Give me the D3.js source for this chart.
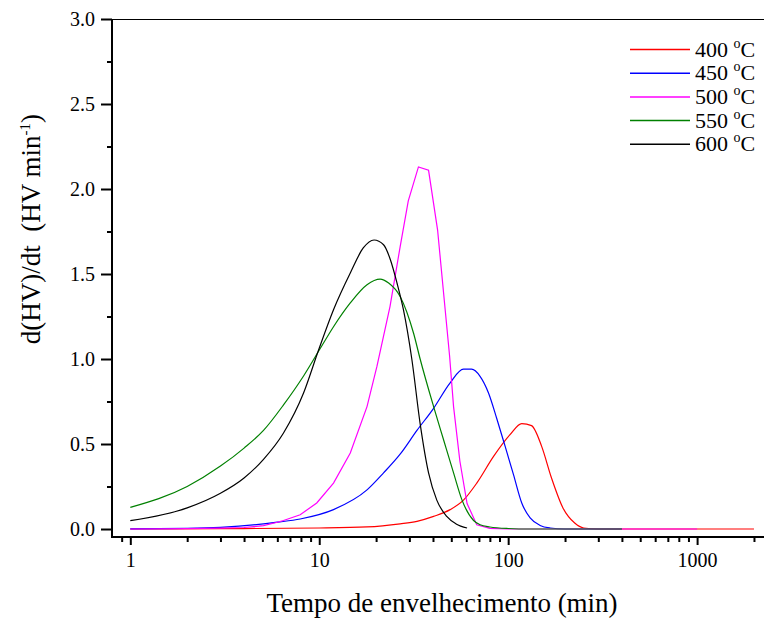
<!DOCTYPE html>
<html>
<head>
<meta charset="utf-8">
<script src="https://cdn.jsdelivr.net/npm/d3@7"></script>
<style>
  body { margin: 0; background: #fff; }
  svg { display: block; }
</style>
</head>
<body>
<svg width="764" height="625"></svg>
<script>
// data: [tempo (min), d(HV)/dt]
const s400 = [[1,0],[3,0.002],[10,0.006],[17.9,0.012],[26.8,0.03],[32.9,0.045],[40.3,0.074],[49.3,0.114],
  [58,0.17],[68.2,0.27],[83.7,0.427],[102.3,0.555],[118,0.62],[133,0.608],[150.4,0.486],[169.6,0.30],
  [195,0.124],[225,0.035],[251,0.006],[300,0],[2000,0]]
const s450 = [[1,0.001],[2,0.004],[3,0.01],[5.07,0.03],[6,0.04],[7.93,0.059],[11.9,0.114],[17.9,0.23],
  [21.9,0.33],[26.8,0.44],[32.9,0.58],[40.3,0.71],[49.3,0.86],[58,0.94],[64,0.94],[71,0.898],[78.7,0.80],
  [87,0.65],[96.4,0.486],[106.7,0.32],[118,0.153],[130.7,0.065],[147.6,0.021],[167,0.006],[200,0],[400,0]]
const s500 = [[1,0],[2,0.002],[3,0.005],[4,0.009],[5.07,0.02],[6,0.04],[6.47,0.05],[7.93,0.084],[9.7,0.153],
  [11.9,0.27],[14.6,0.447],[17.9,0.72],[20.2,0.956],[23.7,1.31],[26.8,1.66],[29.6,1.93],[33.5,2.13],
  [37.9,2.11],[42.3,1.76],[45.5,1.39],[49,1.015],[51.4,0.72],[55.5,0.40],[60.6,0.15],[68.2,0.025],
  [80,0.004],[100,0],[1000,0]]
const s550 = [[1,0.127],[2,0.25],[3,0.37],[4,0.476],[5.07,0.58],[6.47,0.73],[8.26,0.90],[10.1,1.06],
  [11.9,1.19],[14.6,1.33],[17.9,1.437],[21,1.47],[23.3,1.447],[26.8,1.368],[31.6,1.15],[34.2,1.0],
  [40.3,0.72],[45.5,0.525],[51.4,0.33],[57,0.17],[65.6,0.05],[71,0.025],[80,0.012],[100,0.003],[130,0],[400,0]]
const s600 = [[1,0.049],[2,0.124],[3,0.21],[4,0.30],[5.07,0.41],[6.47,0.565],[8.26,0.80],[9.9,1.05],
  [11.9,1.29],[14.6,1.506],[17.1,1.653],[19.5,1.70],[21.9,1.672],[23.8,1.584],[25.8,1.447],[27.9,1.29],
  [30.9,1.0],[34.2,0.62],[37.9,0.33],[41.9,0.17],[47.3,0.074],[53,0.03],[60.6,0.006]]

const labels = ['400', '450', '500', '550', '600']
const colors = ['#ff0000', '#0000ff', '#ff00ff', '#008000', '#000000']
const series = [s400, s450, s500, s550, s600]

const xMajor = [1, 10, 100, 1000]
const xMinor = [0.9, 2, 3, 4, 5, 6, 7, 8, 9, 20, 30, 40, 50, 60, 70, 80, 90,
  200, 300, 400, 500, 600, 700, 800, 900, 2000]
const yMajor = [0, 0.5, 1.0, 1.5, 2.0, 2.5, 3.0]
const yMinor = [0.25, 0.75, 1.25, 1.75, 2.25, 2.75]

const serif = "'Liberation Serif', 'Times New Roman', Times, 'DejaVu Serif', serif"
const svg = d3.select('svg').style('font-family', serif)
const pLeft = 112, pRight = 764, pTop = 19, pBottom = 537

const x = d3.scaleLog().domain([0.8, 2260]).range([pLeft, pRight])
const y = d3.scaleLinear().domain([-0.047, 3]).range([pBottom, pTop])

// axes
const gx = svg.append('g').attr('transform', `translate(0,${pBottom})`)
gx.call(d3.axisBottom(x).tickValues(xMajor).tickSize(8).tickPadding(8).tickFormat(d3.format('d')))
gx.append('g').call(d3.axisBottom(x).tickValues(xMinor).tickSize(5).tickFormat(''))
gx.selectAll('.domain').remove()
gx.selectAll('g').attr('font-family', null)
gx.attr('font-family', null)
gx.selectAll('.tick line').attr('stroke', '#000').attr('stroke-width', 2)
gx.selectAll('.tick text').style('font-size', '20px').style('font-family', serif).attr('fill', '#000')

const gy = svg.append('g').attr('transform', `translate(${pLeft},0)`)
gy.call(d3.axisLeft(y).tickValues(yMajor).tickSize(11).tickPadding(6).tickFormat(d3.format('.1f')))
gy.append('g').call(d3.axisLeft(y).tickValues(yMinor).tickSize(5).tickFormat(''))
gy.selectAll('.domain').remove()
gy.attr('font-family', null)
gy.selectAll('.tick line').attr('stroke', '#000').attr('stroke-width', 2)
gy.selectAll('.tick text').style('font-size', '20px').style('font-family', serif).attr('fill', '#000').attr('dy', '0.34em')

svg.append('line').attr('x1', pLeft).attr('x2', pRight).attr('y1', pBottom).attr('y2', pBottom)
  .attr('stroke', '#000').attr('stroke-width', 2)
svg.append('line').attr('x1', pLeft).attr('x2', pLeft).attr('y1', pTop).attr('y2', pBottom + 1)
  .attr('stroke', '#000').attr('stroke-width', 2)
svg.append('line').attr('x1', pLeft).attr('x2', pRight).attr('y1', pTop + 0.5).attr('y2', pTop + 0.5)
  .attr('stroke', '#000').attr('stroke-width', 1.2)

// curves
const smooth = d3.line().x(d => x(d[0])).y(d => y(d[1])).curve(d3.curveMonotoneX)
const straight = d3.line().x(d => x(d[0])).y(d => y(d[1]))
series.forEach(function (s, i) {
  svg.append('path')
    .datum(s)
    .attr('d', i == 2 ? straight : smooth)
    .attr('fill', 'none')
    .attr('stroke', colors[i])
    .attr('stroke-width', 1.2)
})

// legend
const legend = svg.append('g')
labels.forEach(function (lab, i) {
  const ly = 49.5 + i * 23.7
  legend.append('line')
    .attr('x1', 630).attr('x2', 690).attr('y1', ly).attr('y2', ly)
    .attr('stroke', colors[i]).attr('stroke-width', 1.5)
  const t = legend.append('text').attr('x', 695).attr('y', ly + 7).style('font-size', '22px')
  t.append('tspan').text(lab + ' ')
  t.append('tspan').text('o').style('font-size', '14px').attr('dy', -9)
  t.append('tspan').text('C').attr('dy', 9)
})

// axis titles
svg.append('text')
  .attr('x', 442).attr('y', 612)
  .attr('text-anchor', 'middle')
  .style('font-size', '27px')
  .text('Tempo de envelhecimento (min)')

const yt = svg.append('text')
  .attr('transform', 'translate(40,229) rotate(-90)')
  .attr('text-anchor', 'middle')
  .style('font-size', '27px')
yt.append('tspan').text('d(HV)/dt \u00a0(HV min')
yt.append('tspan').text('-1').style('font-size', '15px').attr('dy', -10)
yt.append('tspan').text(')').attr('dy', 10)
</script>
</body>
</html>
